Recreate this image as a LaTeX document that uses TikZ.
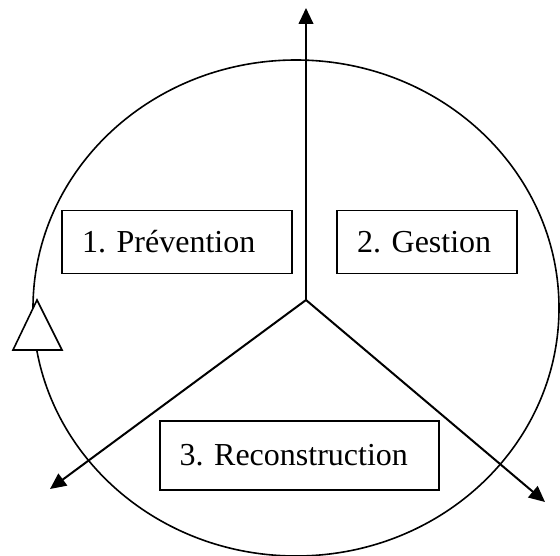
\documentclass[tikz,border=0pt]{standalone}
\usepackage{fontspec}
\setmainfont{Liberation Serif}
\frenchspacing
\usetikzlibrary{arrows.meta,positioning}
\tikzstyle{phase} = [draw=black, line width=1pt, fill=white, inner xsep=15pt, align=left, font=\fontsize{24}{28}\selectfont]
\tikzstyle{axis}  = [line width=1.5pt, -{Triangle[length=12pt, width=11pt]}]

\begin{document}
\begin{tikzpicture}[x=0.75pt, y=-0.75pt,
		cycle/.style={line width=1.2pt},
		marker/.style={line width=1.2pt, fill=white, line join=miter}]

	\useasboundingbox (0,0) rectangle (560,556);

	% the cycle
	\draw[cycle] (296,308) ellipse [x radius=263, y radius=248];
	\draw[marker] (37,300) -- (62,350) -- (13,350) -- cycle;

	% the three phases
	\coordinate (hub) at (306,300);
	\coordinate (up) at (306,8);
	\coordinate (downleft) at (50,489);
	\coordinate (downright) at (545,502);

	\draw[axis] (hub) -- (up);
	\draw[axis] (hub) -- (downleft);
	\draw[axis] (hub) -- (downright);

	\node[phase, text width=142.5pt, minimum height=47.25pt] (prevention) at (177,242) {1. Prévention};
	\node[phase, text width=105pt, minimum height=47.25pt] (gestion) at (427,242) {2. Gestion};
	\node[phase, inner xsep=14.6pt, text width=180pt, minimum height=51.75pt] (reconstruction) at (299.5,455.5) {\mbox{3. Reconstruction}};
\end{tikzpicture}
\end{document}
